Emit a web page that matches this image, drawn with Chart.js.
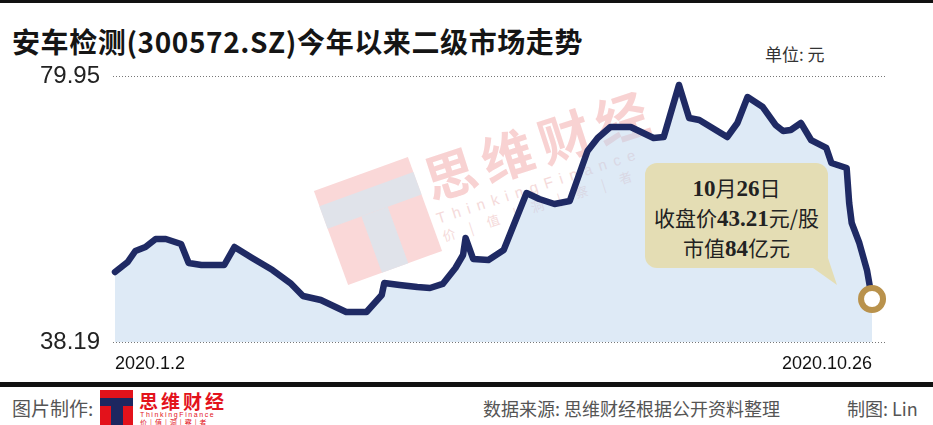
<!DOCTYPE html>
<html>
<head>
<meta charset="utf-8">
<script src="https://cdn.jsdelivr.net/npm/chart.js@4.4.0/dist/chart.umd.min.js"></script>
<style>
  html, body { margin: 0; padding: 0; background: #fff; }
  body { width: 933px; height: 425px; position: relative; overflow: hidden; font-family: "Noto Sans CJK SC", sans-serif; }
  .abs { position: absolute; }
  #topline { left: 0; top: 0; width: 933px; height: 3px; background: #111; }
  #title { left: 12px; top: 27px; font-size: 28px; line-height: 1; font-weight: bold; letter-spacing: 0.6px; color: #151515; white-space: nowrap; }
  #unit { left: 765px; top: 45px; font-size: 17px; line-height: 1; color: #333; }
  #wrap { left: 0; top: 0; width: 933px; height: 425px; z-index: 1; }
  /* watermark */
  .wm { z-index: 0; }
  #wmLogo { left: 328px; top: 171px; width: 100px; height: 100px; background: #fad8d8; transform: rotate(-20deg); }
  #wmLogo .bar { position: absolute; left: 0; top: 16px; width: 100px; height: 24px; background: #e0e3ea; }
  #wmLogo .stem { position: absolute; left: 36px; top: 40px; width: 28px; height: 60px; background: #e0e3ea; }
  #wmText { left: 425px; top: 154px; font-size: 52px; line-height: 52px; font-weight: bold; letter-spacing: 8px; color: #f8d2d2; transform: rotate(-18deg); transform-origin: left center; white-space: nowrap; }
  #wmEn { left: 437px; top: 210px; font-size: 15px; line-height: 18px; letter-spacing: 7px; color: #f5dada; font-family: "Liberation Sans", sans-serif; transform: rotate(-18deg); transform-origin: left center; white-space: nowrap; }
  #wmCn { left: 443px; top: 228px; font-size: 13px; line-height: 18px; letter-spacing: 6px; color: #f5dada; transform: rotate(-18deg); transform-origin: left center; white-space: nowrap; }
  /* note */
  #note { left: 645px; top: 163px; width: 183px; height: 105px; border-radius: 12px; background: #e4ddb4; z-index: 2; text-align: center; color: #222; font-size: 21px; line-height: 28px; padding-top: 10px; box-sizing: border-box; }
  #note b { font-family: "Liberation Serif", serif; font-weight: bold; font-size: 23px; }
  #tail { left: 805px; top: 250px; width: 35px; height: 37px; background: #e4ddb4; z-index: 2; clip-path: polygon(8px 18px, 32px 35px, 22px 5px); }
  /* footer */
  #footbar { left: 0; top: 382px; width: 933px; height: 5px; background: #111; }
  .foot { top: 398px; font-size: 18px; line-height: 20px; color: #555; white-space: nowrap; }
  #logo { left: 100px; top: 390px; width: 33px; height: 35px; background: #e3121b; }
  #logo .bar { position: absolute; left: 0; top: 8px; width: 33px; height: 8px; background: #1d2760; }
  #logo .stem { position: absolute; left: 11px; top: 16px; width: 12px; height: 19px; background: #1d2760; }
  #logoCn { left: 139px; top: 391px; font-size: 19px; line-height: 20px; font-weight: bold; color: #e3121b; letter-spacing: 3px; }
  #logoEn { left: 140px; top: 411px; font-size: 7px; line-height: 8px; color: #e3121b; letter-spacing: 1.6px; font-family: "Liberation Sans", sans-serif; }
  #logoSub { left: 140px; top: 418px; font-size: 7px; line-height: 8px; color: #e3121b; letter-spacing: 3px; }
</style>
</head>
<body>
<div id="topline" class="abs"></div>
<div id="title" class="abs">安车检测(300572.SZ)今年以来二级市场走势</div>
<div id="unit" class="abs">单位: 元</div>

<div id="wmLogo" class="abs wm"><div class="bar"></div><div class="stem"></div></div>
<div id="wmText" class="abs wm">思维财经</div>
<div id="wmEn" class="abs wm">ThinkingFinance</div>
<div id="wmCn" class="abs wm">价 | 值 | 洞 | 察 | 者</div>

<div id="wrap" class="abs"><canvas id="chart" width="933" height="425"></canvas></div>

<div id="note" class="abs">
  <div><b>10</b>月<b>26</b>日</div>
  <div>收盘价<b>43.21</b>元/股</div>
  <div>市值<b>84</b>亿元</div>
</div>
<div id="tail" class="abs"></div>

<div id="footbar" class="abs"></div>
<div class="abs foot" style="left:12px; font-size:19px;">图片制作:</div>
<div id="logo" class="abs"><div class="bar"></div><div class="stem"></div></div>
<div id="logoCn" class="abs">思维财经</div>
<div id="logoEn" class="abs">ThinkingFinance</div>
<div id="logoSub" class="abs">价|值|洞|察|者</div>
<div class="abs foot" style="left:483px;">数据来源: 思维财经根据公开资料整理</div>
<div class="abs foot" style="left:847px;">制图: Lin</div>

<script>
// day of year 2020 (1 = Jan 1) for each vertex of the price line
const days = [2, 7, 10, 14, 18, 22, 28, 31, 36, 45,
              49, 56, 64, 71, 76, 83, 93, 101, 107, 108,
              114, 121, 126, 131, 136, 139, 140, 143, 149, 155,
              164, 169, 175, 181, 188, 192, 197, 205, 214, 218,
              224, 228, 232, 243, 247, 251, 257, 262, 265, 268,
              272, 276, 282, 284, 290, 291, 292, 295, 298, 300];
// closing price, yuan
const prices = [49.18, 50.75, 52.48, 53.10, 54.36, 54.36, 53.58, 50.59, 50.28, 50.28,
                53.10, 51.38, 49.49, 47.45, 45.41, 44.78, 42.90, 42.90, 45.57, 47.45,
                47.14, 46.82, 46.67, 47.30, 49.81, 51.85, 54.52, 51.22, 51.06, 52.63,
                61.58, 60.64, 59.86, 60.33, 68.18, 70.22, 71.94, 71.94, 70.22, 70.37,
                78.54, 73.36, 73.04, 70.37, 72.57, 76.65, 75.08, 72.26, 71.31, 71.47,
                72.57, 69.90, 68.65, 66.29, 65.51, 60.01, 56.87, 53.73, 49.49, 44.94];
const tickDays = [2, 300];
const tickLabels = ['2020.1.2', '2020.10.26'];
const yTicks = [38.19, 79.95];

const points = days.map((d, i) => ({ x: d, y: prices[i] }));
const lastIdx = points.length - 1;

new Chart(document.getElementById('chart'), {
    type: 'line',
    data: {
        datasets: [{
            data: points,
            borderColor: '#1f2a64',
            borderWidth: 6.5,
            borderJoinStyle: 'round',
            borderCapStyle: 'round',
            tension: 0,
            fill: 'start',
            backgroundColor: 'rgba(189,213,237,0.5)',
            pointRadius: ctx => ctx.dataIndex === lastIdx ? 11 : 0,
            pointHoverRadius: 0,
            pointBorderWidth: 6,
            pointBorderColor: '#b9924c',
            pointBackgroundColor: '#ffffff',
            clip: false
        }]
    },
    options: {
        responsive: false,
        animation: false,
        layout: { padding: { top: 76, right: 48, bottom: 0, left: 0 } },
        plugins: {
            legend: { display: false },
            tooltip: { enabled: false }
        },
        scales: {
            x: {
                type: 'linear',
                min: 1.21,
                max: 305.1,
                afterBuildTicks: axis => { axis.ticks = tickDays.map(v => ({ value: v })); },
                afterFit: scale => { scale.height = 83; },
                grid: { display: false },
                border: { display: false },
                ticks: {
                    callback: (v, i) => tickLabels[i],
                    align: 'inner',
                    autoSkip: false,
                    maxRotation: 0,
                    padding: 3,
                    color: '#111',
                    font: { family: 'Liberation Sans', size: 18 }
                }
            },
            y: {
                min: yTicks[0],
                max: yTicks[1],
                afterBuildTicks: axis => { axis.ticks = yTicks.map(v => ({ value: v })); },
                afterFit: scale => { scale.width = 113; },
                grid: { color: '#777', lineWidth: 1, drawTicks: false },
                border: { display: false, dash: [1, 2] },
                ticks: {
                    callback: v => v.toFixed(2),
                    padding: 13,
                    color: '#222',
                    font: { family: 'Liberation Sans', size: 24 }
                }
            }
        }
    }
});
</script>
</body>
</html>
